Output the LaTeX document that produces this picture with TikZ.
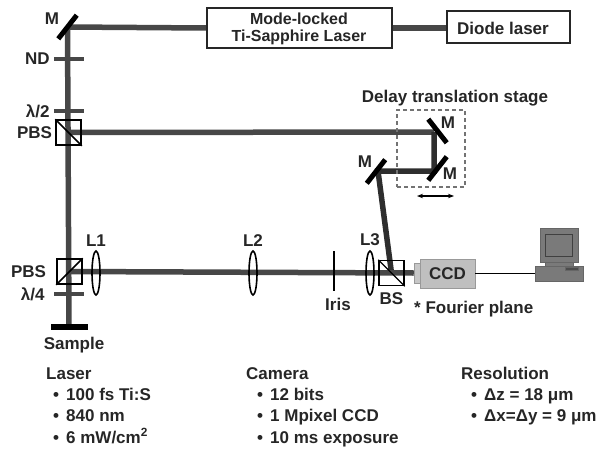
\documentclass[tikz,border=0pt]{standalone}
\usepackage{fontspec}
\setmainfont{Liberation Sans}
\usetikzlibrary{positioning,backgrounds,arrows.meta,shapes.geometric}
\tikzset{
    lbl/.style={font=\fontsize{17}{19}\selectfont\bfseries,text=black!85,inner sep=0pt},
    spec/.style={lbl,anchor=base west,yshift=-6pt},
    beam/.style={draw=black!72,line width=5.5pt,line join=miter},
    delaybeam/.style={draw=black!82,line width=5.5pt,line join=miter},
    mirror/.style={fill=black,inner sep=0pt,minimum width=30pt,minimum height=5pt},
    plate/.style={fill=black!72,inner sep=0pt,minimum width=30pt,minimum height=4.5pt},
    cube/.style={draw=black,line width=1.5pt,inner sep=0pt,minimum size=25pt},
    lens/.style={draw=black,line width=1.6pt,ellipse,inner sep=0pt,minimum width=8pt,minimum height=44pt},
    laserbox/.style={draw=black!85,fill=white,line width=1.5pt,inner sep=0pt,align=center},
    part/.style={fill=black!52,draw=black!60,line width=0.5pt,inner sep=0pt},
}
\begin{document}
\begin{tikzpicture}[x=1pt,y=-1pt]
    \useasboundingbox (0,0) rectangle (597,450);

    \node (modelocked) [laserbox,minimum width=185pt,minimum height=40pt] at (299.5,28) {};
    \node (modetext) [lbl,align=center,font=\fontsize{16}{17}\selectfont\bfseries] at (299,28.5) {Mode-locked\\Ti-Sapphire Laser};
    \node (diode) [laserbox,minimum width=123pt,minimum height=32pt] at (508.5,27) {};
    \node (diodetext) [lbl] at (503,28) {Diode laser};

    \node (mtop) [mirror,rotate=52] at (67.5,27) {};
    \node (mtoplabel) [lbl] at (52,19) {M};
    \node (nd) [plate] at (69,59) {};
    \node (ndlabel) [lbl,left = 4pt,at=(nd.west)] {ND};
    \node (halfwave) [plate] at (69,111) {};
    \node (halfwavelabel) [lbl,left = 4pt,at=(halfwave.west)] {λ/2};
    \node (pbsa) [cube] at (68.5,132.5) {};
    \node (pbsalabel) [lbl,left = 3pt,at=(pbsa.west)] {PBS};

    \node (pbsb) [cube] at (69.5,271.5) {};
    \node (pbsblabel) [lbl,left = 10pt,at=(pbsb.west)] {PBS};
    \node (quarter) [plate] at (69,294) {};
    \node (quarterlabel) [lbl,left = 9pt,at=(quarter.west)] {λ/4};
    \node (sample) [fill=black,inner sep=0pt,minimum width=37pt,minimum height=6pt] at (69,327) {};
    \node (samplelabel) [lbl,below = 7pt,at=(sample.south),xshift=5pt] {Sample};

    \node (lensa) [lens] at (96,273) {};
    \node (lensalabel) [lbl,above = 4pt,at=(lensa.north)] {L1};
    \node (lensb) [lens] at (253,273) {};
    \node (lensblabel) [lbl,above = 4pt,at=(lensb.north)] {L2};
    \node (iris) [fill=black,inner sep=0pt,minimum width=2pt,minimum height=40pt] at (334,271) {};
    \node (irislabel) [lbl,below = 7pt,at=(iris.south),xshift=4pt] {Iris};
    \node (lensc) [lens] at (370,273) {};
    \node (lensclabel) [lbl,above = 4pt,at=(lensc.north)] {L3};
    \node (bs) [cube] at (391.5,273) {};
    \node (bslabel) [lbl,below = 6pt,at=(bs.south)] {BS};

    \node (mupper) [mirror,rotate=-52] at (437.5,131) {};
    \node (muplabel) [lbl] at (448,123) {M};
    \node (mlower) [mirror,rotate=52] at (437.5,168.5) {};
    \node (mlowlabel) [lbl] at (450,174) {M};
    \node (mleft) [mirror,rotate=52] at (376,171.5) {};
    \node (mleftlabel) [lbl] at (365,162) {M};
    \coordinate (folda) at (434,132);
    \coordinate (foldb) at (434,171);
    \coordinate (foldc) at (378,171);

    \node (stage) [draw=black!55,dash pattern=on 4pt off 3pt,line width=1.2pt,inner sep=0pt,minimum width=68pt,minimum height=77pt] at (431,148.5) {};
    \node (stagelabel) [lbl] at (455,98) {Delay translation stage};
    \coordinate (travela) at (417,196);
    \coordinate (travelb) at (454,196);

    \node (ccdback) [fill=black!22,draw=black!40,line width=0.5pt,inner sep=0pt,minimum width=6pt,minimum height=20pt] at (417,273) {};
    \node (ccd) [fill=black!25,draw=black!40,line width=0.8pt,lbl,minimum width=55pt,minimum height=29pt] at (447.5,273.5) {CCD};
    \node (fourier) [lbl,anchor=west] at (414,309) {* Fourier plane};

    \node (monitor) [part,minimum width=38pt,minimum height=34pt] at (559,245) {};
    \node (screen) [part,draw=black!75,line width=1pt,minimum width=27pt,minimum height=22pt] at (558.5,245) {};
    \node (neck) [part,minimum width=28pt,minimum height=4pt] at (559,264) {};
    \node (pcbase) [part,minimum width=48pt,minimum height=15pt] at (559,273.5) {};
    \node (slot) [part,fill=black!70,minimum width=13pt,minimum height=3pt] at (572,269) {};

    \node (lasertitle) [spec] at (46,373) {Laser};
    \node (laserbullet) [spec] at (53,394) {•};
    \node (laseritema) [spec] at (66,394) {100 fs Ti:S};
    \node (laserbulletb) [spec] at (53,415) {•};
    \node (laseritemb) [spec] at (66,415) {840 nm};
    \node (laserbulletc) [spec] at (53,437) {•};
    \node (laseritemc) [spec] at (66,437) {6 mW/cm\textsuperscript{2}};

    \node (cameratitle) [spec] at (246,373) {Camera};
    \node (camerabullet) [spec] at (257,394) {•};
    \node (cameraitema) [spec] at (270,394) {12 bits};
    \node (camerabulletb) [spec] at (257,415) {•};
    \node (cameraitemb) [spec] at (270,415) {1 Mpixel CCD};
    \node (camerabulletc) [spec] at (257,437) {•};
    \node (cameraitemc) [spec] at (270,437) {10 ms exposure};

    \node (restitle) [spec] at (461,373) {Resolution};
    \node (resbullet) [spec] at (471,394) {•};
    \node (resitema) [spec] at (484,394) {Δz = 18 μm};
    \node (resbulletb) [spec] at (471,415) {•};
    \node (resitemb) [spec] at (484,415) {Δx=Δy = 9 μm};

    \draw[black,line width=1.5pt] (pbsa.north west) -- (pbsa.south east);
    \draw[black,line width=1.5pt] (pbsb.south west) -- (pbsb.north east);
    \draw[black,line width=1.4pt] (bs.north west) -- (bs.south east);
    \draw[black,line width=1.4pt,{Stealth[length=6pt]}-{Stealth[length=6pt]}] (travela) -- (travelb);
    \draw[black,line width=1pt] (ccd) -- (pcbase);

    \begin{scope}[on background layer]
        \path[beam] (modelocked.east) -- (modelocked.east -| diode.west);
        \path[beam] (modelocked.west) -- (mtop.center);
        \path[beam] (mtop.center) -- (sample.center);
        \path[beam] (pbsa.center) -- (folda);
        \path[delaybeam] (folda) -- (foldb) -- (foldc) -- (bs.center);
        \path[beam] (pbsb.center) -- (ccdback.west);
    \end{scope}
\end{tikzpicture}
\end{document}
